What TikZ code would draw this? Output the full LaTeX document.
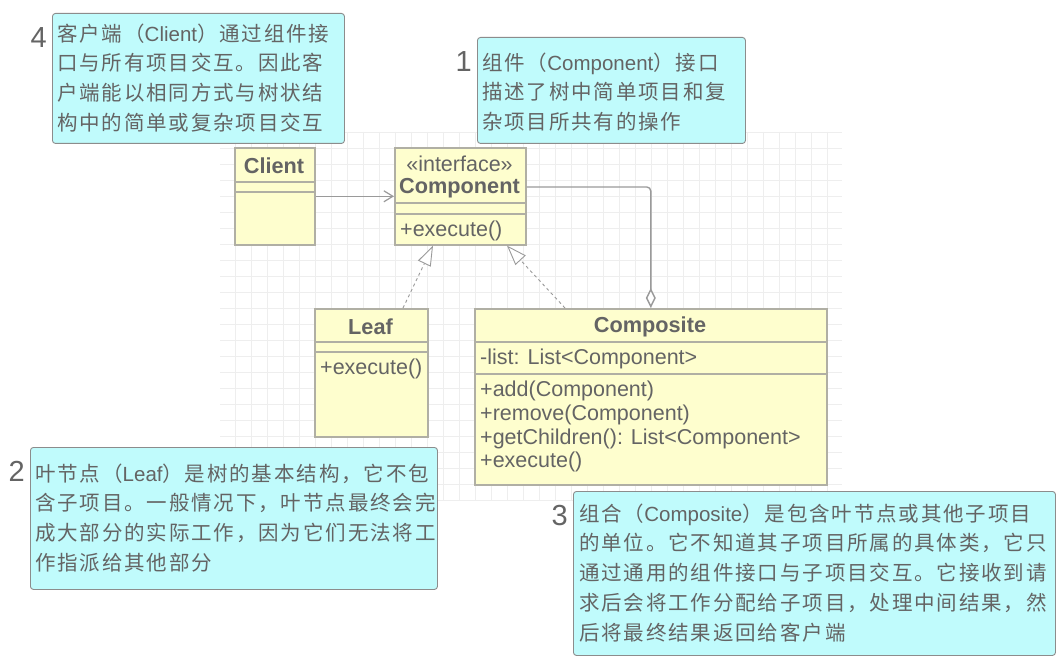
\documentclass[tikz,border=0pt]{standalone}
\usepackage{fontspec}
\setmainfont{Liberation Sans}
\newfontfamily\cjkfont[LetterSpace=9]{Noto Sans CJK SC}
\newfontfamily\latfont{Liberation Sans}
\usetikzlibrary{arrows.meta}

\definecolor{textgray}{HTML}{646464}
\definecolor{classfill}{HTML}{FEFECE}
\definecolor{classline}{HTML}{B0AFA4}
\definecolor{notefill}{HTML}{C0FBFC}
\definecolor{notedraw}{HTML}{8C8C8C}
\definecolor{linegray}{HTML}{9A9A9A}
\definecolor{gridgray}{HTML}{EEEEEE}

\newcommand{\lat}[1]{{\latfont #1}}

\tikzset{
  classbox/.style={draw=classline, fill=classfill, line width=1.6pt, inner sep=0pt, anchor=north west},
  sepline/.style={draw=classline, line width=1.6pt},
  classname/.style={inner sep=0pt, text=textgray, font=\bfseries\fontsize{21.7}{24}\selectfont},
  stereo/.style={inner sep=0pt, text=textgray, font=\fontsize{21.5}{24}\selectfont},
  member/.style={anchor=west, inner sep=0pt, text=textgray, font=\fontsize{21.5}{24}\selectfont},
  notebox/.style={draw=notedraw, fill=notefill, rounded corners=3pt, line width=0.9pt, inner sep=0pt, anchor=north west},
  notetext/.style={anchor=north west, inner sep=0pt, align=left, text=textgray, font=\cjkfont\fontsize{20.5}{29.7}\selectfont},
  notenum/.style={anchor=east, inner sep=0pt, text=textgray, font=\fontsize{29}{29}\selectfont},
  gridline/.style={draw=gridgray, line width=0.8pt},
  assoc/.style={draw=linegray, line width=1.2pt, -{Straight Barb[length=9pt,width=11pt]}},
  realize/.style={draw=linegray, line width=0.9pt, dash pattern=on 3pt off 3pt, -{Triangle[length=20pt,width=14pt,fill=white]}},
  aggr/.style={draw=linegray, line width=1.4pt, rounded corners=4pt, -{Diamond[length=20pt,width=10pt,fill=white]}},
}

\begin{document}
\begin{tikzpicture}[x=1pt, y=-1pt]
    \fill[white] (0,0) rectangle (1056,668);
    \useasboundingbox (0,0) rectangle (1056,668);

    % background grid
    \foreach \gx in {235,251,...,827}
        \draw[gridline] (\gx,132) -- (\gx,500);
    \foreach \gy in {132,148,...,500}
        \draw[gridline] (220,\gy) -- (842,\gy);

    % classes
    \node[classbox, minimum width=80, minimum height=97] (client) at (234,147) {};
    \draw[sepline] (234,182) -- (314,182);
    \draw[sepline] (234,192) -- (314,192);
    \node[classname] (clientname) at (274,166) {Client};

    \node[classbox, minimum width=131, minimum height=97] (component) at (394,147) {};
    \draw[sepline] (394,203) -- (525,203);
    \draw[sepline] (394,214) -- (525,214);
    \node[stereo] (componentstereo) at (459.5,164) {«interface»};
    \node[classname] (componentname) at (459.5,188.5) {Component};
    \node[member] (componentexec) at (400,231) {+execute()};

    \node[classbox, minimum width=113, minimum height=128] (leaf) at (314,308) {};
    \draw[sepline] (314,342) -- (427,342);
    \draw[sepline] (314,352) -- (427,352);
    \node[classname] (leafname) at (370.5,326.5) {Leaf};
    \node[member] (leafexec) at (320,369) {+execute()};

    \node[classbox, minimum width=352, minimum height=176] (composite) at (474,308) {};
    \draw[sepline] (474,342) -- (826,342);
    \draw[sepline] (474,374) -- (826,374);
    \node[classname] (compositename) at (650,326.5) {Composite};
    \node[member] (compositelist) at (480,358.5) {-list: List<Component>};
    \node[member] (compositeadd) at (480,390.5) {+add(Component)};
    \node[member] (compositeremove) at (480,414.5) {+remove(Component)};
    \node[member] (compositechildren) at (480,438.5) {+getChildren(): List<Component>};
    \node[member] (compositeexec) at (480,462) {+execute()};

    % relations
    \draw[assoc] (client.east) -- (client.east -| component.west);
    \draw[aggr] ([yshift=-40pt]component.north east) -| (composite.north);
    \draw[realize] ([xshift=89pt]leaf.north west) -- ([xshift=39pt]component.south west);
    \draw[realize] ([xshift=91pt]composite.north west) -- ([xshift=113pt]component.south west);

    % notes
    \node[notebox, minimum width=292, minimum height=130] (note4) at (52,13) {};
    \node[notenum] (num4) at (47,37.5) {4};
    \node[notetext] (note4text) at (57,23.5) {客户端（\lat{Client}）通过组件接\\口与所有项目交互。因此客\\户端能以相同方式与树状结\\构中的简单或复杂项目交互};

    \node[notebox, minimum width=268, minimum height=106] (note1) at (477,37) {};
    \node[notenum] (num1) at (472,61.5) {1};
    \node[notetext] (note1text) at (482,52.5) {组件（\lat{Component}）接口\\描述了树中简单项目和复\\杂项目所共有的操作};

    \node[notebox, minimum width=407, minimum height=142] (note2) at (30,447) {};
    \node[notenum] (num2) at (25,471.5) {2};
    \node[notetext] (note2text) at (35,463.5) {叶节点（\lat{Leaf}）是树的基本结构，它不包\\含子项目。一般情况下，叶节点最终会完\\成大部分的实际工作，因为它们无法将工\\作指派给其他部分};

    \node[notebox, minimum width=482, minimum height=164] (note3) at (573,491) {};
    \node[notenum] (num3) at (568,515.5) {3};
    \node[notetext] (note3text) at (579,503.5) {组合（\lat{Composite}）是包含叶节点或其他子项目\\的单位。它不知道其子项目所属的具体类，它只\\通过通用的组件接口与子项目交互。它接收到请\\求后会将工作分配给子项目，处理中间结果，然\\后将最终结果返回给客户端};
\end{tikzpicture}
\end{document}
